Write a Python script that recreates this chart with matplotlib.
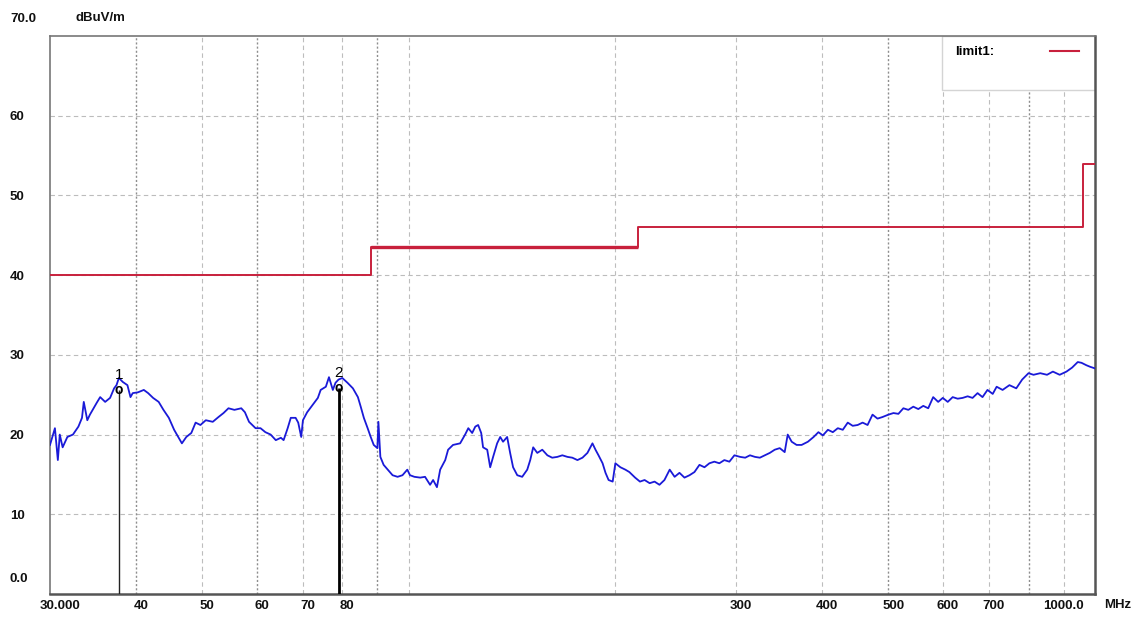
import matplotlib
matplotlib.use('Agg')
import matplotlib.pyplot as plt
from matplotlib.transforms import ScaledTranslation
from matplotlib.patches import Rectangle

trace_freq = [30.0, 30.5, 30.8, 31.0, 31.3, 31.8, 32.4, 33.0, 33.4, 33.6, 34.0, 34.3, 35.1, 35.5,
              36.1, 36.7, 37.2, 37.5, 37.8, 38.3, 38.9, 39.3, 39.6, 40.3, 41.1, 41.7, 42.4, 43.2,
              43.9, 44.7, 45.5, 46.2, 46.7, 47.4, 48.2, 48.9, 49.7, 50.6, 51.8, 52.8, 53.7, 54.6,
              55.7, 57.0, 57.7, 58.5, 59.8, 60.8, 61.8, 62.9, 64.0, 65.1, 65.7, 66.6, 67.3, 68.4,
              69.0, 69.7, 70.1, 71.1, 72.4, 73.7, 74.4, 75.7, 76.5, 77.5, 78.2, 79.0, 80.0, 81.4,
              82.9, 84.3, 85.1, 86.0, 87.1, 88.0, 88.9, 90.0, 90.3, 90.9, 91.9, 93.2, 94.7, 96.3,
              97.9, 99.5, 100.4, 101.9, 103.9, 105.6, 107.4, 108.5, 109.9, 111.1, 113.0, 114.1,
              116.0, 118.8, 120.8, 122.1, 123.7, 125.0, 126.2, 127.5, 128.3, 130.1, 131.4, 132.7,
              134.5, 135.9, 137.2, 139.1, 140.5, 141.9, 143.9, 146.3, 148.8, 150.3, 151.8, 153.9,
              156.5, 159.2, 161.8, 164.6, 167.4, 170.3, 173.1, 176.1, 179.1, 182.1, 185.2, 187.1,
              189.0, 191.6, 193.5, 195.5, 198.2, 200.0, 203.4, 206.8, 209.6, 213.7, 217.2, 220.6,
              224.4, 228.1, 231.9, 235.8, 240.0, 244.0, 248.0, 252.2, 256.5, 260.8, 265.2, 269.7,
              274.2, 278.8, 283.5, 288.3, 293.2, 298.2, 304.0, 309.2, 314.2, 319.5, 324.8, 330.3,
              335.8, 341.4, 347.2, 353.0, 356.6, 361.4, 367.4, 373.6, 381.6, 389.0, 395.3, 401.3,
              408.1, 414.9, 421.9, 429.0, 436.2, 443.5, 450.9, 458.5, 466.2, 474.0, 482.0, 490.1,
              500.0, 508.5, 517.0, 525.7, 534.5, 543.5, 552.7, 562.0, 571.4, 581.0, 590.8, 600.0,
              610.1, 620.3, 630.8, 641.4, 652.2, 663.1, 674.3, 685.6, 697.1, 709.5, 718.9, 733.4,
              750.4, 767.8, 783.2, 800.0, 813.6, 832.2, 851.3, 868.2, 888.2, 908.7, 926.0, 943.8,
              955.9, 971.4, 984.0, 1000.0]
trace_level = [18.7, 20.8, 16.8, 20.0, 18.4, 19.7, 20.0, 21.0, 22.1, 24.1, 21.8, 22.5, 24.0, 24.7,
               24.1, 24.6, 25.8, 26.2, 27.1, 26.6, 26.2, 24.7, 25.2, 25.3, 25.6, 25.2, 24.6, 24.1,
               23.1, 22.1, 20.6, 19.6, 18.9, 19.7, 20.2, 21.5, 21.2, 21.8, 21.6, 22.2, 22.7, 23.3,
               23.1, 23.3, 22.8, 21.6, 20.8, 20.8, 20.3, 20.0, 19.3, 19.6, 19.3, 20.8, 22.1, 22.1,
               21.5, 19.7, 21.8, 22.8, 23.7, 24.6, 25.6, 26.0, 27.2, 25.6, 26.5, 26.9, 27.1, 26.5,
               25.8, 24.7, 23.5, 22.1, 20.8, 19.7, 18.7, 18.3, 21.6, 17.2, 16.2, 15.6, 14.9, 14.7,
               14.9, 15.6, 14.9, 14.7, 14.6, 14.7, 13.7, 14.3, 13.4, 15.6, 16.8, 18.1,
               18.7, 18.9, 20.0, 20.8, 20.2, 21.0, 21.2, 20.2, 18.4, 18.1, 15.9, 17.2,
               18.9, 19.7, 19.1, 19.7, 17.7, 15.9, 14.9, 14.7, 15.6, 16.8, 18.4, 17.7,
               18.1, 17.4, 17.1, 17.2, 17.4, 17.2, 17.1, 16.8, 17.1, 17.7, 18.9, 18.1,
               17.4, 16.4, 15.2, 14.3, 14.1, 16.4, 15.9, 15.6, 15.3, 14.6, 14.1, 14.3,
               13.9, 14.1, 13.7, 14.3, 15.6, 14.7, 15.2, 14.6, 14.9, 15.3, 16.2, 15.9,
               16.4, 16.6, 16.4, 16.8, 16.6, 17.4, 17.2, 17.1, 17.4, 17.2, 17.1, 17.4,
               17.7, 18.1, 18.3, 17.8, 20.0, 19.1, 18.7, 18.7, 19.1, 19.7, 20.3, 19.9,
               20.6, 20.3, 20.8, 20.6, 21.5, 21.1, 21.2, 21.5, 21.2, 22.5, 22.0, 22.2,
               22.5, 22.7, 22.6, 23.3, 23.1, 23.5, 23.2, 23.6, 23.3, 24.7, 24.1, 24.6,
               24.1, 24.7, 24.5, 24.6, 24.8, 24.6, 25.2, 24.7, 25.6, 25.1, 26.0, 25.6,
               26.2, 25.8, 26.9, 27.7, 27.5, 27.7, 27.5, 27.9, 27.5, 27.9, 28.4, 29.1,
               29.0, 28.7, 28.5, 28.3]

# limit line (class B style steps)
limit_freq = [30, 88, 216, 960, 1000]
limit_level = [40, 43.5, 46, 54, 54]

# peak markers
marker_freq = [37.8, 79.0]
marker_level = [25.6, 25.8]
marker_names = ['1', '2']

xtick_vals = [30, 40, 50, 60, 70, 80, 300, 400, 500, 600, 700, 1000]
xtick_labels = ['30.000', '40', '50', '60', '70', '80', '300', '400', '500', '600', '700', '1000.0']
ytick_vals = [0, 10, 20, 30, 40, 50, 60, 70]
ytick_labels = ['0.0', '10', '20', '30', '40', '50', '60', '70.0']
grid_dark = [40, 60, 90, 500, 800]
grid_light = [50, 70, 80, 100, 200, 300, 400, 600, 700, 900]

plt.rcParams['font.family'] = ['Liberation Sans', 'DejaVu Sans']

fig = plt.figure(figsize=(11.42, 6.17), dpi=100)
ax = fig.add_axes([50 / 1142, 23 / 617, 1045 / 1142, 558 / 617])
ax.set_xscale('log')
ax.set_xlim(30, 1000)
ax.set_ylim(0, 70)
ax.minorticks_off()

for y in range(10, 70, 10):
    ax.axhline(y, color='#bcbcbc', ls=(0, (4, 3)), lw=0.8, zorder=1)
for f in grid_dark:
    ax.axvline(f, color='#8e8e8e', ls=(0, (1.5, 1.5)), lw=1.0, zorder=1)
for f in grid_light:
    ax.axvline(f, color='#bdbdbd', ls=(0, (4, 3)), lw=0.8, zorder=1)

# legend box in the corner hides the grid
ax.add_patch(Rectangle((0.8536, 0.9032), 0.1464, 0.0968, transform=ax.transAxes,
                       facecolor='white', edgecolor='#d4d4d4', lw=1.0, zorder=2))
ax.text(0.866, 0.972, 'limit1:', transform=ax.transAxes, fontsize=9.5, fontweight='bold',
        va='center', ha='left', zorder=3)
ax.plot([0.957, 0.985], [0.973, 0.973], transform=ax.transAxes, color='#c8203c', lw=1.5, zorder=3)

ax.step(limit_freq, limit_level, where='post', color='#c8203c', lw=1.4, zorder=3)
ax.hlines(limit_level[1], limit_freq[1], limit_freq[2], color='#c8203c', lw=2.4, zorder=3)

ax.plot(trace_freq, trace_level, color='#1a1ad8', lw=1.3, zorder=4)

for i in range(len(marker_freq)):
    ax.vlines(marker_freq[i], 0, marker_level[i], color='#222222' if i == 0 else 'black',
              lw=1.0 if i == 0 else 2.0, zorder=5)
    ax.text(marker_freq[i], marker_level[i] + 1.9, marker_names[i], ha='center', va='center',
            fontsize=11, zorder=6)
    ax.text(marker_freq[i], marker_level[i], 'o', ha='center', va='center', fontsize=10,
            fontweight='bold', zorder=6)

ax.set_xticks(xtick_vals, xtick_labels)
ax.set_yticks(ytick_vals, ytick_labels)
ax.tick_params(axis='x', length=0, pad=4.5, labelsize=9.5, labelcolor='#111111')
ax.tick_params(axis='y', length=0, pad=28.8, labelsize=9.5, labelcolor='#111111')
for lbl in ax.get_xticklabels() + ax.get_yticklabels():
    lbl.set_fontweight('bold')

dpi_tr = fig.dpi_scale_trans
for t, lab in zip(ax.xaxis.get_major_ticks(), xtick_labels):
    dx = 5
    if lab == '30.000':
        dx = 10
    if lab == '1000.0':
        dx = -32
    t.label1.set_transform(t.label1.get_transform() + ScaledTranslation(dx / 100, 0, dpi_tr))
for t, lab in zip(ax.yaxis.get_major_ticks(), ytick_labels):
    t.label1.set_horizontalalignment('left')
    dy = 0
    if lab == '0.0':
        dy = 16
    if lab == '70.0':
        dy = 18
    t.label1.set_transform(t.label1.get_transform() + ScaledTranslation(0, dy / 100, dpi_tr))

for s in ['left', 'top']:
    ax.spines[s].set_color('#777777')
    ax.spines[s].set_linewidth(1.2)
for s in ['right', 'bottom']:
    ax.spines[s].set_color('#555555')
    ax.spines[s].set_linewidth(1.8)

fig.text(75 / 1142, 1 - 18 / 617, 'dBuV/m', fontsize=9.5, fontweight='bold', ha='left',
         va='center', color='#111111')
fig.text(1104 / 1142, 1 - 605 / 617, 'MHz', fontsize=9.5, fontweight='bold', ha='left',
         va='center', color='#111111')

plt.savefig('out.png', dpi=100)
